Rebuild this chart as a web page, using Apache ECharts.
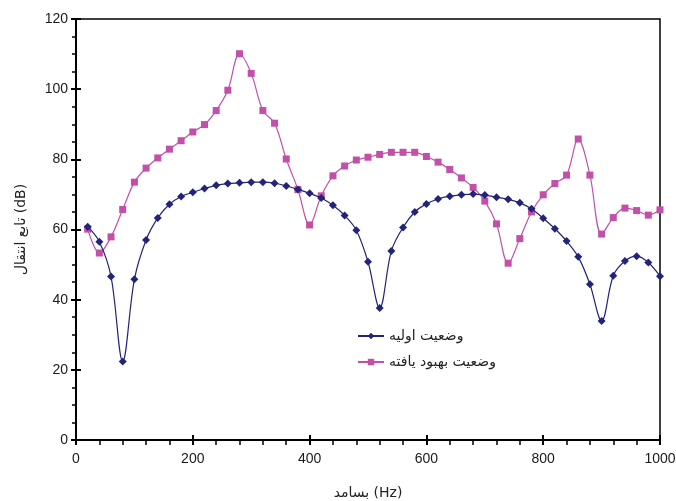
<!DOCTYPE html>
<html><head><meta charset="utf-8">
<script src="https://cdn.jsdelivr.net/npm/echarts@6/dist/echarts.min.js"></script>
<style>html,body{margin:0;padding:0;background:#fff}#c{width:676px;height:501px}</style>
</head><body><div id="c"></div>
<script>
const freq = [20,40,60,80,100,120,140,160,180,200,220,240,260,280,300,320,340,360,380,400,420,440,460,480,500,520,540,560,580,600,620,640,660,680,700,720,740,760,780,800,820,840,860,880,900,920,940,960,980,1000];
const initial = [60.8,56.5,46.6,22.4,45.8,57.0,63.3,67.2,69.4,70.6,71.7,72.6,73.1,73.3,73.5,73.5,73.2,72.4,71.4,70.3,69.0,66.9,64.0,59.8,50.8,37.6,53.9,60.6,65.0,67.3,68.7,69.5,69.9,70.1,69.8,69.2,68.6,67.6,65.9,63.2,60.2,56.7,52.2,44.4,33.9,46.8,51.0,52.4,50.6,46.7];
const improved = [60.1,53.3,57.9,65.7,73.5,77.5,80.4,82.9,85.3,87.8,89.9,93.9,99.7,110.1,104.5,93.9,90.3,80.1,71.4,61.3,69.6,75.3,78.1,79.8,80.6,81.4,82.0,82.0,82.0,80.8,79.2,77.1,74.7,72.0,68.1,61.6,50.4,57.4,65.0,69.9,73.1,75.5,85.8,75.5,58.7,63.4,66.1,65.4,64.1,65.6];
const seriesNames = ['وضعیت اولیه','وضعیت بهبود یافته'];
const xTitle = 'بسامد (Hz)';
const yTitle = 'تابع انتقال (dB)';

const chart = echarts.init(document.getElementById('c'));
const lblFont = {color:'#1a1a1a', fontSize:14, fontFamily:'Liberation Sans, Arial, sans-serif', formatter: v => String(v)};
const pair = arr => freq.map((f,i)=>[f,arr[i]]);
chart.setOption({
  animation:false,
  backgroundColor:'#fff',
  grid:{left:76,right:16,top:19,bottom:61,show:true,borderColor:'#000',borderWidth:1.5,backgroundColor:'transparent',
    containLabel:false,outerBoundsMode:'none'},
  legend:{left:352,top:324,orient:'vertical',itemWidth:26,itemHeight:8,itemGap:12,
    textStyle:{fontSize:14,color:'#222',fontFamily:'DejaVu Sans, sans-serif'},
    data:seriesNames},
  xAxis:[{type:'value',min:0,max:1000,interval:200,position:'bottom',
    name:xTitle,nameLocation:'middle',nameGap:46,
    nameTextStyle:{fontSize:14,color:'#222',fontFamily:'DejaVu Sans, sans-serif'},
    axisLine:{lineStyle:{color:'#000',width:2}},
    axisTick:{length:5,lineStyle:{color:'#000',width:2}},
    minorTick:{show:true,splitNumber:5,length:5,lineStyle:{color:'#000',width:1.5}},
    splitLine:{show:false},axisLabel:Object.assign({margin:12},lblFont)},
   {type:'value',min:0,max:1000,interval:200,position:'bottom',
    axisLine:{show:false},axisTick:{inside:true,length:5,lineStyle:{color:'#000',width:2}},
    axisLabel:{show:false},splitLine:{show:false}}],
  yAxis:[{type:'value',min:0,max:120,interval:20,position:'left',
    name:yTitle,nameLocation:'middle',nameGap:48,
    nameTextStyle:{fontSize:14,color:'#222',fontFamily:'DejaVu Sans, sans-serif'},
    axisLine:{show:true,lineStyle:{color:'#000',width:2}},
    axisTick:{show:true,length:5,lineStyle:{color:'#000',width:2}},
    minorTick:{show:true,splitNumber:4,length:4,lineStyle:{color:'#000',width:1.5}},
    splitLine:{show:false},axisLabel:Object.assign({margin:8},lblFont)},
   {type:'value',min:0,max:120,interval:20,position:'left',
    axisLine:{show:false},axisTick:{show:true,inside:true,length:5,lineStyle:{color:'#000',width:2}},
    axisLabel:{show:false},splitLine:{show:false}}],
  series:[
    {name:seriesNames[0],type:'line',data:pair(initial),smooth:0.35,symbol:'diamond',symbolSize:8,
     itemStyle:{color:'#23237A'},lineStyle:{color:'#23237A',width:1.2},z:3},
    {name:seriesNames[1],type:'line',data:pair(improved),smooth:0.35,symbol:'rect',symbolSize:7,
     itemStyle:{color:'#C24FA8'},lineStyle:{color:'#C24FA8',width:1.2},z:2}
  ]
});
</script></body></html>
